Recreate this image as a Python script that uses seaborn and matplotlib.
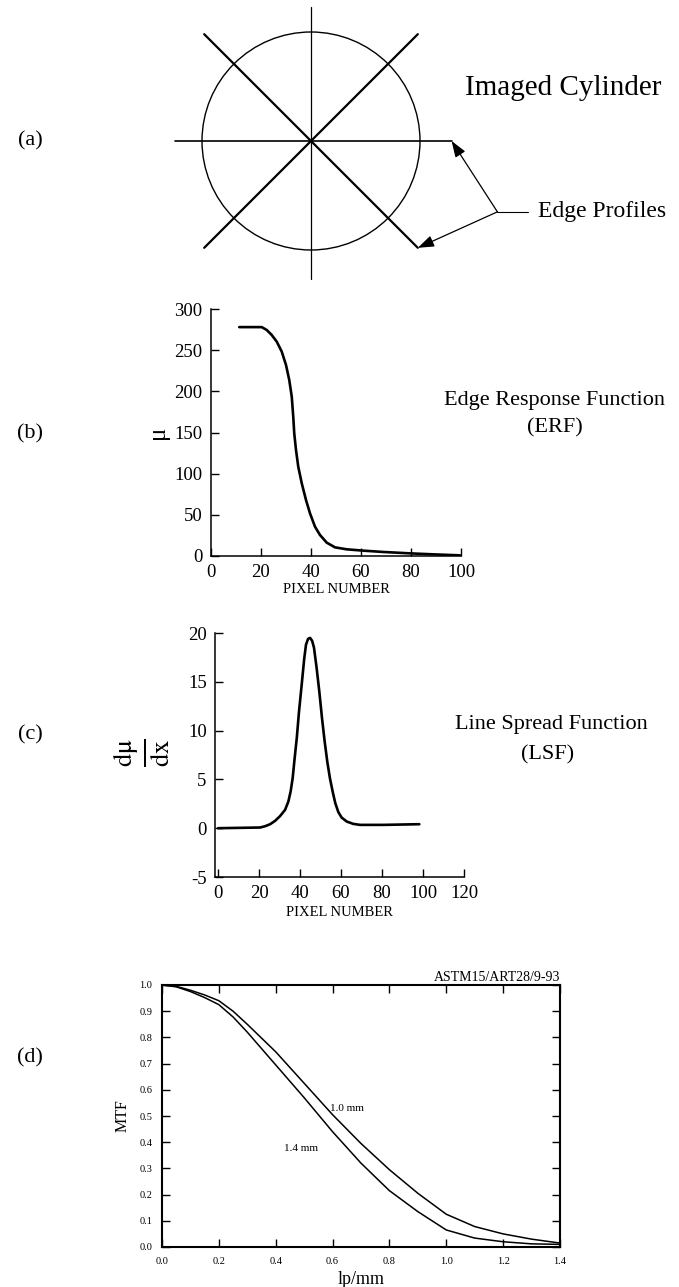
import numpy as np
import pandas as pd
import matplotlib
matplotlib.use('Agg')
import matplotlib.pyplot as plt
from matplotlib.patches import Circle
import seaborn as sns

# (b) edge response function
erf_x = [11.3, 20.3, 22.3, 24.3, 26.3, 28.3, 30.0, 31.3, 32.3, 32.9, 33.3, 34.0, 34.9, 36.3,
         38.0, 39.6, 41.6, 43.6, 46.3, 49.6, 54.3, 60.9, 68.9, 79.6, 88.9, 99.6]
erf_y = [278, 278, 274.5, 268.4, 260.3, 248.2, 232, 213.8, 193.5, 169.2, 149, 128.7, 108.5, 88.3,
         68, 51.8, 35.6, 25.5, 16.2, 10.5, 8.1, 6.5, 4.9, 3.2, 2.0, 0.8]

# (c) line spread function
lsf_x = [0, 20.5, 22.9, 25.4, 27.8, 30.2, 32.7, 34.3, 35.4, 36.4, 37.2, 38.4, 39.5, 40.8, 42.0,
         42.9, 43.9, 44.9, 45.9, 46.8, 48.1, 49.4, 50.7, 52.0, 53.3, 54.6, 55.9, 57.2, 58.7,
         60.3, 62.8, 66.0, 69.3, 80.6, 98.2]
lsf_y = [0, 0.07, 0.2, 0.41, 0.75, 1.23, 1.88, 2.74, 3.76, 5.13, 6.84, 9.23, 11.97, 14.7, 17.3,
         18.8, 19.4, 19.5, 19.2, 18.5, 16.4, 14.0, 11.3, 8.9, 6.8, 5.1, 3.76, 2.56, 1.64,
         1.09, 0.68, 0.44, 0.34, 0.34, 0.41]

# (d) MTF for two pixel sizes
lp_mm = [0.0, 0.05, 0.1, 0.15, 0.2, 0.25, 0.3, 0.4, 0.5, 0.6, 0.7, 0.8, 0.9, 1.0, 1.1, 1.2, 1.3, 1.4]
mtf_10 = [1.0, 0.995, 0.98, 0.962, 0.94, 0.9, 0.85, 0.745, 0.625, 0.505, 0.395, 0.295, 0.205,
          0.125, 0.078, 0.05, 0.03, 0.015]
mtf_14 = [1.0, 0.993, 0.975, 0.952, 0.925, 0.878, 0.82, 0.695, 0.57, 0.44, 0.32, 0.215, 0.135,
          0.065, 0.034, 0.02, 0.012, 0.01]

erf_ticks_x = [0, 20, 40, 60, 80, 100]
erf_ticks_y = [0, 50, 100, 150, 200, 250, 300]
lsf_ticks_x = [0, 20, 40, 60, 80, 100, 120]
lsf_ticks_y = [-5, 0, 5, 10, 15, 20]
mtf_ticks_x = [0.0, 0.2, 0.4, 0.6, 0.8, 1.0, 1.2, 1.4]
mtf_ticks_y = [0.0, 0.1, 0.2, 0.3, 0.4, 0.5, 0.6, 0.7, 0.8, 0.9, 1.0]

# (a) schematic: circle of radius 1, spokes
spoke_vert = (-1.27, 1.23)
spoke_horz = (-1.25, 1.29)
spoke_diag = 0.98
knee = (1.71, -0.65)

sns.set_theme(style='ticks')
plt.rcParams['font.family'] = ['Liberation Serif', 'DejaVu Serif']
plt.rcParams['mathtext.fontset'] = 'stix'
plt.rcParams['axes.unicode_minus'] = False
for k in ['text.color', 'axes.labelcolor', 'xtick.color', 'ytick.color', 'axes.edgecolor']:
    plt.rcParams[k] = 'black'

W, H = 679, 1287
fig = plt.figure(figsize=(W / 100, H / 100), dpi=100)


def box(left, top, right, bottom):
    return [left / W, 1 - bottom / H, (right - left) / W, (bottom - top) / H]


def style_axes(ax, lw=1.1):
    for s in ax.spines.values():
        s.set_linewidth(lw)
        s.set_color('black')
    ax.tick_params(direction='in', length=6, width=1, colors='black')


# ---- (a) imaged cylinder
ax_a = fig.add_axes(box(0, 0, W, 290))
ax_a.set_xlim(-311 / 109, (W - 311) / 109)
ax_a.set_ylim(-(290 - 141) / 109, 141 / 109)
ax_a.axis('off')
ax_a.add_patch(Circle((0, 0), 1.0, fill=False, lw=1.0, color='black'))
ax_a.plot([0, 0], spoke_vert, color='black', lw=0.9)
ax_a.plot(spoke_horz, [0, 0], color='black', lw=1.2)
ax_a.plot([-spoke_diag, spoke_diag], [spoke_diag, -spoke_diag], color='black', lw=1.6)
ax_a.plot([-spoke_diag, spoke_diag], [-spoke_diag, spoke_diag], color='black', lw=1.6)
ax_a.plot([knee[0], 1.99], [knee[1], knee[1]], color='black', lw=0.8)
for tip in [(spoke_horz[1], 0), (spoke_diag, -spoke_diag)]:
    ax_a.annotate('', xy=tip, xytext=knee,
                  arrowprops=dict(arrowstyle='-|>,head_length=0.7,head_width=0.25',
                                  color='black', lw=0.9,
                                  mutation_scale=14, shrinkA=0, shrinkB=0))
ax_a.text(2.08, knee[1], 'Edge Profiles', fontsize=17, ha='left', va='center')
ax_a.text(1.41, 0.49, 'Imaged Cylinder', fontsize=21, ha='left', va='center')

# ---- (b) ERF
ax_b = fig.add_axes(box(211, 309, 461, 556))
sns.lineplot(x=erf_x, y=erf_y, ax=ax_b, color='black', linewidth=1.9)
ax_b.set_xlim(0, 100)
ax_b.set_ylim(0, 300)
ax_b.set_xticks(erf_ticks_x)
ax_b.set_yticks(erf_ticks_y)
sns.despine(ax=ax_b)
style_axes(ax_b)
ax_b.tick_params(labelsize=13.5, pad=6)
ax_b.set_xlabel('PIXEL NUMBER', fontsize=10.5, labelpad=1)
ax_b.set_ylabel('μ', fontsize=18, labelpad=4)

# ---- (c) LSF
ax_c = fig.add_axes(box(215, 633, 464, 877))
sns.lineplot(x=lsf_x, y=lsf_y, ax=ax_c, color='black', linewidth=1.9)
ax_c.set_xlim(-1.5, 120)
ax_c.set_ylim(-5, 20)
ax_c.set_xticks(lsf_ticks_x)
ax_c.set_yticks(lsf_ticks_y)
sns.despine(ax=ax_c)
style_axes(ax_c)
ax_c.tick_params(labelsize=13.5, pad=6)
ax_c.set_xlabel('PIXEL NUMBER', fontsize=10.5, labelpad=3)
ax_c.set_ylabel(r'$\frac{\mathrm{d}\mathrm{\mu}}{\mathrm{dx}}$', fontsize=27)
ax_c.yaxis.set_label_coords(-0.173, 0.51)

# ---- (d) MTF
ax_d = fig.add_axes(box(162, 985, 560, 1247))
mtf = pd.DataFrame({'lp': lp_mm * 2, 'mtf': mtf_10 + mtf_14,
                    'size': ['1.0 mm'] * len(lp_mm) + ['1.4 mm'] * len(lp_mm)})
sns.lineplot(data=mtf, x='lp', y='mtf', units='size', estimator=None,
             ax=ax_d, color='black', linewidth=1.1)
ax_d.set_xlim(0, 1.4)
ax_d.set_ylim(0, 1.0)
ax_d.set_xticks(mtf_ticks_x)
ax_d.set_yticks(mtf_ticks_y)
ax_d.set_xticklabels([f'{v:.1f}' for v in mtf_ticks_x])
ax_d.set_yticklabels([f'{v:.1f}' for v in mtf_ticks_y])
style_axes(ax_d, lw=1.5)
ax_d.tick_params(top=True, right=True, labelsize=7.5, pad=7)
ax_d.set_xlabel('lp/mm', fontsize=13, labelpad=4)
ax_d.set_ylabel('MTF', fontsize=11.5, labelpad=6)
ax_d.text(0.59, 0.53, '1.0 mm', fontsize=8, ha='left', va='center')
ax_d.text(0.43, 0.375, '1.4 mm', fontsize=8, ha='left', va='center')
ax_d.text(1.0, 1.005, 'ASTM15/ART28/9-93', transform=ax_d.transAxes,
          fontsize=10, ha='right', va='bottom')

# ---- panel labels and captions
for lab, y in [('(a)', 141), ('(b)', 434), ('(c)', 735), ('(d)', 1058)]:
    fig.text(30 / W, 1 - y / H, lab, fontsize=16, ha='center', va='center')

fig.text(554 / W, 1 - 400 / H, 'Edge Response Function', fontsize=16, ha='center', va='center')
fig.text(555 / W, 1 - 428 / H, '(ERF)', fontsize=16, ha='center', va='center')
fig.text(551 / W, 1 - 725 / H, 'Line Spread Function', fontsize=16, ha='center', va='center')
fig.text(548 / W, 1 - 755 / H, '(LSF)', fontsize=16, ha='center', va='center')

fig.savefig('out.png', dpi=100, facecolor='white')
